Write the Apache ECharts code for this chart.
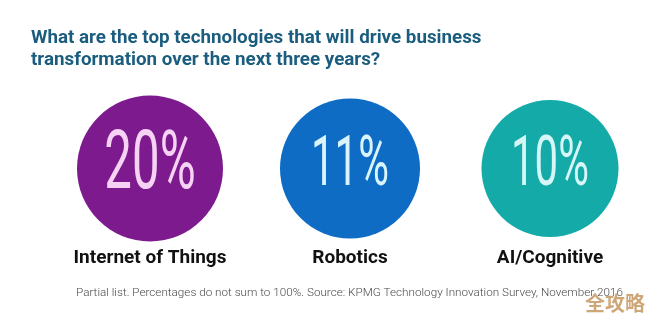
<!DOCTYPE html>
<html>
<head>
<meta charset="utf-8">
<script src="https://cdn.jsdelivr.net/npm/echarts@6/dist/echarts.min.js"></script>
<style>
  html, body { margin: 0; padding: 0; background: #ffffff; }
  #chart { width: 650px; height: 324px; }
</style>
</head>
<body>
<div id="chart"></div>
<script>
// Survey results: share of respondents naming each technology
const categories = ['Internet of Things', 'Robotics', 'AI/Cognitive'];
const shares = [20, 11, 10];

const titleText = 'What are the top technologies that will drive business\ntransformation over the next three years?';
const footnote = 'Partial list. Percentages do not sum to 100%. Source: KPMG Technology Innovation Survey, November 2016';
const watermark = '全攻略';

// Styling per bubble
const bubbleColors = ['#7d1a8e', '#0f6cc4', '#13aaa8'];
const numberColors = ['#f6d2f4', '#d9f4fb', '#d6f5f6'];
const bubbleRadius = [73, 70, 68.5];
const numberFont = [82, 70, 70];

const chart = echarts.init(document.getElementById('chart'), null, { renderer: 'canvas' });

chart.setOption({
  backgroundColor: '#ffffff',
  animation: false,
  title: {
    text: titleText,
    left: 26,
    top: 22,
    textStyle: {
      fontFamily: 'Roboto',
      fontWeight: 'bold',
      fontSize: 18.8,
      lineHeight: 22,
      color: '#1b5d7e'
    }
  },
  grid: { left: 50, right: -3, top: 68, bottom: 55 },
  xAxis: { type: 'category', data: categories, show: false },
  yAxis: { type: 'value', min: -1, max: 1, show: false },
  series: [{
    type: 'custom',
    data: shares.map((v, i) => [i, 0, v]),
    renderItem: function (params, api) {
      const i = params.dataIndex;
      const c = api.coord([api.value(0), api.value(1)]);
      const r = bubbleRadius[i];
      return {
        type: 'group',
        children: [
          {
            type: 'circle',
            shape: { cx: c[0], cy: c[1], r: r },
            style: { fill: bubbleColors[i] }
          },
          {
            type: 'text',
            x: c[0],
            y: c[1] - 1,
            scaleX: 0.6,
            style: {
              text: api.value(2) + '%',
              fontFamily: 'Roboto',
              fontWeight: 'normal',
              fontSize: numberFont[i],
              fill: numberColors[i],
              align: 'center',
              verticalAlign: 'middle'
            }
          },
          {
            type: 'text',
            x: c[0],
            y: c[1] + 90,
            style: {
              text: categories[i],
              fontFamily: 'Roboto',
              fontWeight: 'bold',
              fontSize: 19,
              fill: '#111111',
              align: 'center',
              verticalAlign: 'middle'
            }
          }
        ]
      };
    }
  }],
  graphic: [
    {
      type: 'text',
      left: 76,
      top: 287,
      style: {
        text: footnote,
        fontFamily: 'Roboto',
        fontWeight: 300,
        fontSize: 11.7,
        fill: '#4a4a4a'
      }
    },
    {
      type: 'text',
      left: 585,
      top: 293,
      style: {
        text: watermark,
        fontFamily: 'Noto Sans CJK SC',
        fontWeight: 'bold',
        fontSize: 20,
        fill: '#c99d6a',
        opacity: 0.9
      }
    }
  ]
});
</script>
</body>
</html>
